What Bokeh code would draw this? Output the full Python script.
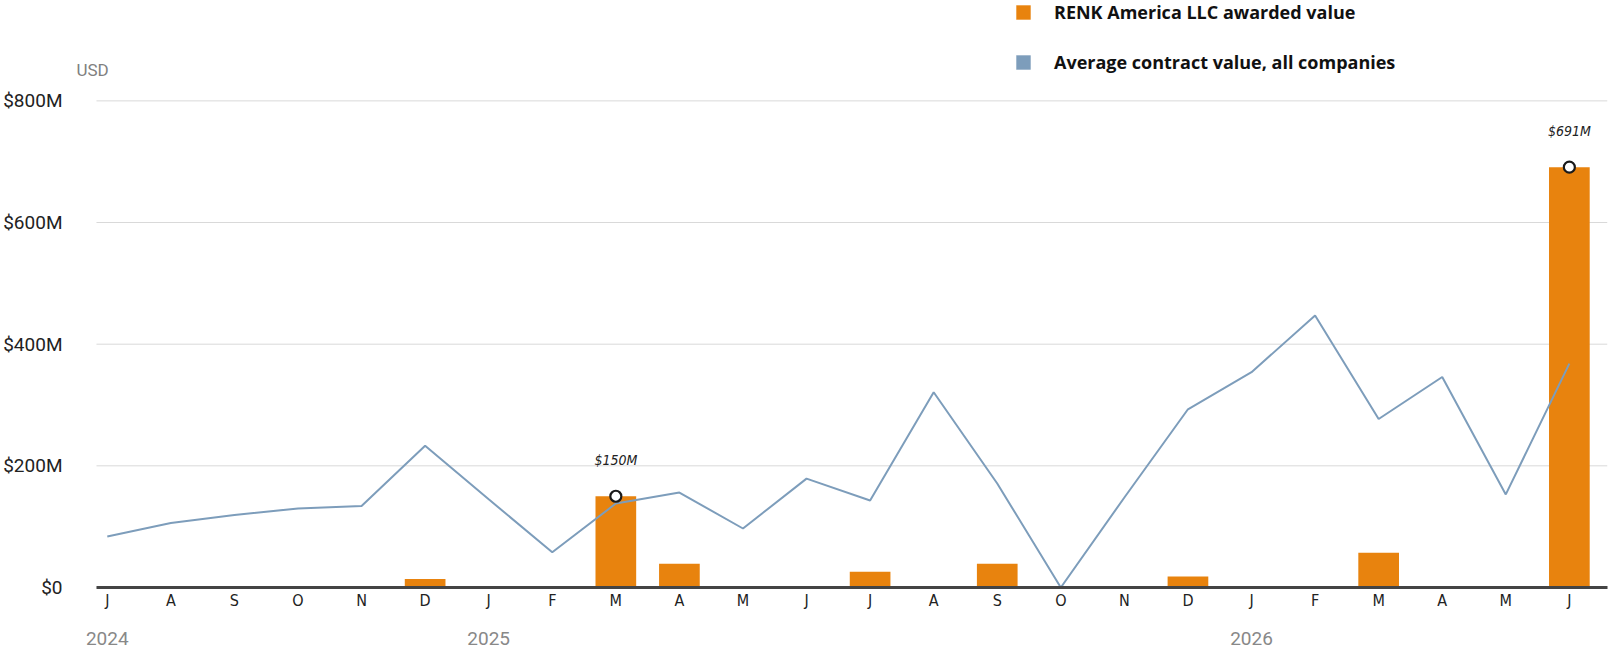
from bokeh.plotting import figure
from bokeh.models import (Range1d, FixedTicker, LinearAxis, Legend, LegendItem,
                          Label, ColumnDataSource)
from bokeh.core.properties import value
from bokeh.embed import file_html
from bokeh.resources import INLINE

# ---- data (USD millions) ----
months = ["J", "A", "S", "O", "N", "D", "J", "F", "M", "A", "M", "J",
          "J", "A", "S", "O", "N", "D", "J", "F", "M", "A", "M", "J"]
renk_values = [0, 0, 0, 0, 0, 14, 0, 0, 150, 39, 0, 0,
               26, 0, 39, 0, 0, 18, 0, 0, 57, 0, 0, 691]
avg_values = [84, 106, 119, 130, 134, 233, 145, 58, 138, 156, 97, 179,
              143, 321, 171, 0, 148, 293, 354, 447, 277, 346, 153, 368]
years = ["2024", "2025", "2026"]
year_pos = [0, 6, 18]
y_ticks = [0, 200, 400, 600, 800]
y_tick_labels = ["$0", "$200M", "$400M", "$600M", "$800M"]
highlight_idx = [8, 23]
highlight_labels = ["$150M", "$691M"]

ORANGE = "#E8830E"
BLUE = "#7D9DBB"
X0, X1 = -0.17, 23.6          # plotted extent of grid / axis line
XR0 = -0.563                  # range start (room for the "USD" label)

xs = list(range(len(months)))
src = ColumnDataSource(dict(x=xs, renk=renk_values, avg=avg_values))
hl = ColumnDataSource(dict(x=highlight_idx,
                           y=[renk_values[i] for i in highlight_idx],
                           t=highlight_labels))

p = figure(width=1610, height=656, output_backend="svg", toolbar_location=None,
           x_range=Range1d(XR0, X1), y_range=Range1d(0, 965),
           min_border_left=70, min_border_right=3, min_border_top=0,
           min_border_bottom=69, outline_line_color=None)
p.xaxis.visible = False
p.yaxis.visible = False
p.xgrid.visible = False
p.ygrid.visible = False

# horizontal grid lines at the y ticks
p.segment(x0=[X0] * len(y_ticks), x1=[X1] * len(y_ticks), y0=y_ticks, y1=y_ticks,
          line_color="#d9d9d9", line_width=1, level="underlay")

bars = p.vbar(x="x", top="renk", width=0.64, source=src, fill_color=ORANGE,
              line_color=None)
p.line(x="x", y="avg", source=src, line_color=BLUE, line_width=2)
dummy = p.vbar(x=[xs[0]], top=[0], width=0.64, fill_color=BLUE, line_color=None)

p.scatter(x="x", y="y", source=hl, size=11, fill_color="white",
          line_color="#1a1a1a", line_width=2.2)
p.text(x="x", y="y", text="t", source=hl, y_offset=-36,
       text_align="center", text_baseline="middle",
       text_font=value("DejaVu Sans Condensed"), text_font_style="italic",
       text_font_size="14px", text_color="#222222")

# y axis
yax = LinearAxis(ticker=FixedTicker(ticks=y_ticks),
                 major_label_overrides={t: l for t, l in zip(y_ticks, y_tick_labels)})
yax.axis_line_color = None
yax.major_tick_line_color = None
yax.minor_tick_line_color = None
yax.major_label_standoff = 3
yax.major_label_text_font = "Roboto"
yax.major_label_text_font_size = "19px"
yax.major_label_text_color = "#222222"
p.add_layout(yax, "left")

# month axis
xax = LinearAxis(ticker=FixedTicker(ticks=xs), bounds=(X0, X1),
                 major_label_overrides={i: m for i, m in enumerate(months)})
xax.axis_line_color = "#444444"
xax.axis_line_width = 3
xax.major_tick_line_color = None
xax.minor_tick_line_color = None
xax.major_label_standoff = -3
xax.major_label_text_font = "DejaVu Sans Condensed"
xax.major_label_text_font_size = "16px"
xax.major_label_text_color = "#222222"
p.add_layout(xax, "below")

# year axis
yrax = LinearAxis(ticker=FixedTicker(ticks=year_pos), bounds=(X0, X1),
                  major_label_overrides={i: y for i, y in zip(year_pos, years)})
yrax.axis_line_color = None
yrax.major_tick_line_color = None
yrax.minor_tick_line_color = None
yrax.major_label_standoff = 13
yrax.major_label_text_font = "Roboto"
yrax.major_label_text_font_size = "19px"
yrax.major_label_text_color = "#888888"
p.add_layout(yrax, "below")

p.add_layout(Label(x=X0 - 20 / 63.6, y=850, text="USD",
                   text_font="Roboto", text_font_size="17px",
                   text_color="#808080", text_align="left",
                   text_baseline="middle"))

legend = Legend(items=[LegendItem(label="RENK America LLC awarded value", renderers=[bars]),
                       LegendItem(label="Average contract value, all companies", renderers=[dummy])],
                location=(943, 513), orientation="vertical")
legend.glyph_width = 18
legend.glyph_height = 18
legend.label_standoff = 22
legend.spacing = 26
legend.padding = 0
legend.margin = 0
legend.border_line_color = None
legend.background_fill_alpha = 0
legend.label_text_font = "Open Sans"
legend.label_text_font_style = "bold"
legend.label_text_font_size = "18px"
legend.label_text_color = "#111111"
legend.label_height = 20
p.add_layout(legend)

open("out.html", "w").write(file_html(p, INLINE))
